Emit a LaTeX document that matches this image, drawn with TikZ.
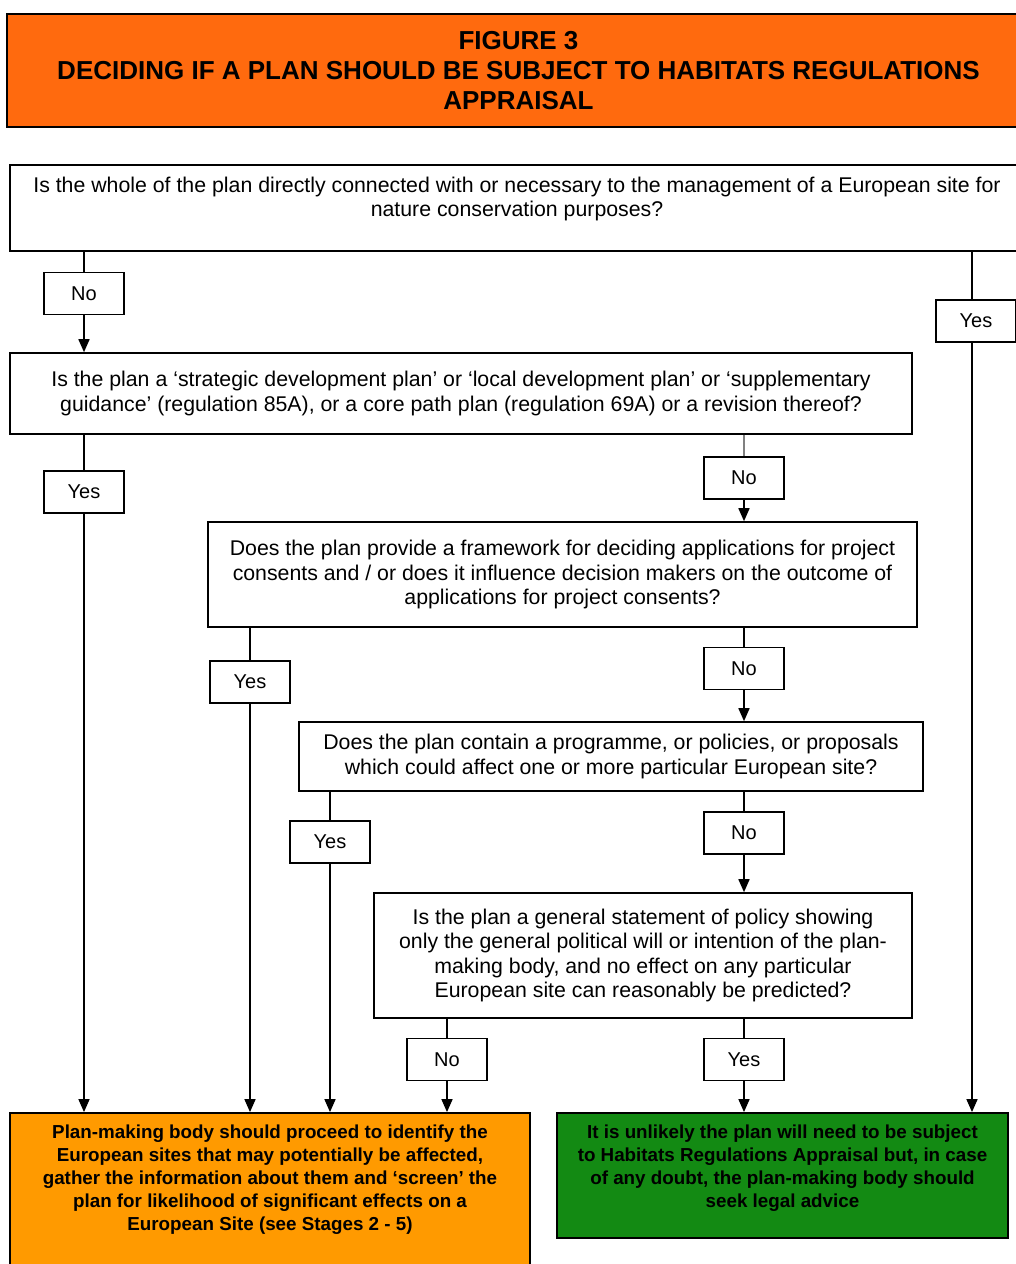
\documentclass[tikz,border=0pt]{standalone}
\usepackage{fontspec}
\setmainfont{Liberation Sans}
\usetikzlibrary{arrows.meta}
\definecolor{titleorange}{HTML}{FF6A0E}
\definecolor{amber}{HTML}{FF9A00}
\definecolor{dgreen}{HTML}{138A13}
\begin{document}
\begin{tikzpicture}[x=1pt,y=-1pt,
  qbox/.style={draw, line width=1.6pt, fill=white, inner sep=0pt},
  qtext/.style={align=center, inner sep=0pt, font=\fontsize{21.3}{24.5}\selectfont},
  lbl/.style={draw, line width=1.2pt, fill=white, minimum width=80pt, minimum height=42pt, inner sep=0pt, font=\fontsize{20}{22}\selectfont},
  restext/.style={align=center, inner sep=0pt, font=\bfseries\fontsize{18.8}{23}\selectfont},
  ln/.style={line width=1.6pt},
  arr/.style={ln, -{Triangle[length=13pt,width=11pt]}}
]
\clip (0,0) rectangle (1016,1264);
\fill[white] (0,0) rectangle (1016,1264);

% title
\node[draw, line width=1.8pt, fill=titleorange, minimum width=1023pt, minimum height=113pt,
  align=center, inner sep=0pt, font=\bfseries\fontsize{26}{30}\selectfont] (title) at (518.5,70.5)
  {FIGURE 3\\DECIDING IF A PLAN SHOULD BE SUBJECT TO HABITATS REGULATIONS\\APPRAISAL};

% question 1
\node[qbox, minimum width=1020pt, minimum height=86pt] (q1) at (520,208) {};
\node[qtext] (q1t) at (517,199) {Is the whole of the plan directly connected with or necessary to the management of a European site for\\nature conservation purposes?};

% question 2
\node[qbox, minimum width=902pt, minimum height=81pt, qtext] (q2) at (461,393.5)
  {Is the plan a ‘strategic development plan’ or ‘local development plan’ or ‘supplementary\\guidance’ (regulation 85A), or a core path plan (regulation 69A) or a revision thereof?};

% question 3
\node[qbox, minimum width=709pt, minimum height=105pt, qtext] (q3) at (562.5,574.5)
  {Does the plan provide a framework for deciding applications for project\\consents and / or does it influence decision makers on the outcome of\\applications for project consents?};

% question 4
\node[qbox, minimum width=624pt, minimum height=69pt, qtext] (q4) at (611,756.5)
  {Does the plan contain a programme, or policies, or proposals\\which could affect one or more particular European site?};

% question 5
\node[qbox, minimum width=538pt, minimum height=125pt, qtext] (q5) at (643,955.5)
  {Is the plan a general statement of policy showing\\only the general political will or intention of the plan-\\making body, and no effect on any particular\\European site can reasonably be predicted?};

% results
\node[draw, line width=1.8pt, fill=amber, minimum width=520pt, minimum height=200pt, inner sep=0pt] (res1) at (270,1213) {};
\node[restext] (res1t) at (270,1180) {Plan-making body should proceed to identify the\\European sites that may potentially be affected,\\gather the information about them and ‘screen’ the\\plan for likelihood of significant effects on a\\European Site (see Stages 2 - 5)};

\node[draw, line width=1.8pt, fill=dgreen, minimum width=451pt, minimum height=125pt, inner sep=0pt] (res2) at (782.5,1175.5) {};
\node[restext] (res2t) at (782.5,1168.5) {It is unlikely the plan will need to be subject\\to Habitats Regulations Appraisal but, in case\\of any doubt, the plan-making body should\\seek legal advice};

% labels
\node[lbl] (no1) at (84,293.5) {No};
\node[lbl] (yes1) at (976,321) {Yes};
\node[lbl] (yes2) at (84,492) {Yes};
\node[lbl] (no2) at (744,478) {No};
\node[lbl] (yes3) at (250,682) {Yes};
\node[lbl] (no3) at (744,668.5) {No};
\node[lbl] (yes4) at (330,842) {Yes};
\node[lbl] (no4) at (744,833) {No};
\node[lbl] (no5) at (447,1059.5) {No};
\node[lbl] (yes5) at (744,1059.5) {Yes};

% connectors
\coordinate (y1x) at (972,0);
\draw[ln] (no1 |- q1.south) -- (no1.north);
\draw[arr] (no1.south) -- (no1 |- q2.north);

\draw[ln] (y1x |- q1.south) -- (y1x |- yes1.north);
\draw[arr] (y1x |- yes1.south) -- (y1x |- res2.north);

\draw[ln] (yes2 |- q2.south) -- (yes2.north);
\draw[arr] (yes2.south) -- (yes2 |- res1.north);

\draw[ln, gray] (no2 |- q2.south) -- (no2.north);
\draw[arr] (no2.south) -- (no2 |- q3.north);

\draw[ln] (yes3 |- q3.south) -- (yes3.north);
\draw[arr] (yes3.south) -- (yes3 |- res1.north);

\draw[ln] (no3 |- q3.south) -- (no3.north);
\draw[arr] (no3.south) -- (no3 |- q4.north);

\draw[ln] (yes4 |- q4.south) -- (yes4.north);
\draw[arr] (yes4.south) -- (yes4 |- res1.north);

\draw[ln] (no4 |- q4.south) -- (no4.north);
\draw[arr] (no4.south) -- (no4 |- q5.north);

\draw[ln] (no5 |- q5.south) -- (no5.north);
\draw[arr] (no5.south) -- (no5 |- res1.north);

\draw[ln] (yes5 |- q5.south) -- (yes5.north);
\draw[arr] (yes5.south) -- (yes5 |- res2.north);
\end{tikzpicture}
\end{document}
